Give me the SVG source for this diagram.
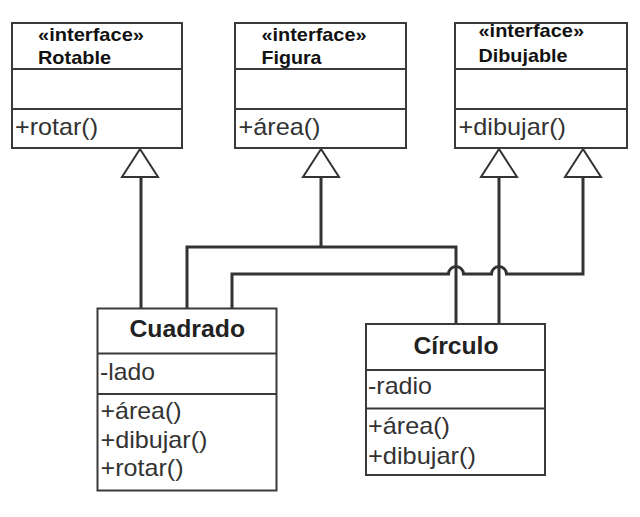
<svg xmlns="http://www.w3.org/2000/svg" width="640" height="517" viewBox="0 0 640 517">
<style>
.box{fill:#fff;stroke:#3a3a3a;stroke-width:2}
.ln{fill:none;stroke:#3a3a3a;stroke-width:2}
.con{fill:none;stroke:#333;stroke-width:3}
.tri{fill:#fff;stroke:#333;stroke-width:2;stroke-linejoin:miter}
.st{font-family:"Liberation Sans",Arial,sans-serif;font-weight:bold;font-size:19px;fill:#111}
.ttl{font-family:"Liberation Sans",Arial,sans-serif;font-weight:bold;font-size:24px;fill:#222}
.t{font-family:"Liberation Sans",Arial,sans-serif;font-size:24px;fill:#333}
</style>
<rect width="640" height="517" fill="#fff"/>
<g id="connectors">
<path class="con" d="M141,308 V176"/>
<path class="con" d="M187,308 V247 H456 V324"/>
<path class="con" d="M321,247 V176"/>
<path class="con" d="M232,308 V274 H448.5 A7.5,7.5 0 0 1 463.5,274 H491.5 A7.5,7.5 0 0 1 506.5,274 H583 V176"/>
<path class="con" d="M499,324 V176"/>
<polygon class="tri" points="140,149 158,177 122,177"/>
<polygon class="tri" points="321,149 339,177 303,177"/>
<polygon class="tri" points="499,149 517,177 481,177"/>
<polygon class="tri" points="583,149 601,177 565,177"/>
</g>
<g id="Rotable">
<rect class="box" x="12" y="23" width="170" height="125" stroke="none"/>
<path class="ln" d="M37,23 H12 V148 H182 V23 H163 M12,69 H182 M12,109 H182"/>
<text class="st" x="38" y="40.5" textLength="106" lengthAdjust="spacingAndGlyphs">«interface»</text>
<text class="st" x="38" y="63.5" textLength="73" lengthAdjust="spacingAndGlyphs">Rotable</text>
<text class="t" x="15" y="134.5" textLength="83" lengthAdjust="spacingAndGlyphs">+rotar()</text>
</g>
<g id="Figura">
<rect class="box" x="235" y="23" width="171" height="125" stroke="none"/>
<path class="ln" d="M261,23 H235 V148 H406 V23 H395 M235,69 H406 M235,109 H406"/>
<text class="st" x="261.5" y="40.5" textLength="105" lengthAdjust="spacingAndGlyphs">«interface»</text>
<text class="st" x="261.5" y="63.5" textLength="60" lengthAdjust="spacingAndGlyphs">Figura</text>
<text class="t" x="238.5" y="135" textLength="82" lengthAdjust="spacingAndGlyphs">+área()</text>
</g>
<g id="Dibujable">
<rect class="box" x="455" y="23" width="172" height="125" stroke="none"/>
<path class="ln" d="M477,23 H455 V148 H627 V23 H613 M455,69 H627 M455,109 H627"/>
<text class="st" x="478.5" y="37" textLength="105.5" lengthAdjust="spacingAndGlyphs">«interface»</text>
<text class="st" x="478.5" y="61.5" textLength="89" lengthAdjust="spacingAndGlyphs">Dibujable</text>
<text class="t" x="458.5" y="134.5" textLength="107.5" lengthAdjust="spacingAndGlyphs">+dibujar()</text>
</g>
<g id="Cuadrado">
<rect class="box" x="97.5" y="308.5" width="179" height="182"/>
<path class="ln" d="M97.5,353.5 H276.5 M97.5,394 H276.5"/>
<text class="ttl" x="129.5" y="337" textLength="115.5" lengthAdjust="spacingAndGlyphs">Cuadrado</text>
<text class="t" x="100" y="379.5" textLength="55" lengthAdjust="spacingAndGlyphs">-lado</text>
<text class="t" x="100.5" y="419" textLength="81" lengthAdjust="spacingAndGlyphs">+área()</text>
<text class="t" x="100.5" y="447.5" textLength="107" lengthAdjust="spacingAndGlyphs">+dibujar()</text>
<text class="t" x="100.5" y="476" textLength="83" lengthAdjust="spacingAndGlyphs">+rotar()</text>
</g>
<g id="Circulo">
<rect class="box" x="366" y="324" width="179" height="151"/>
<path class="ln" d="M366,370 H545 M366,408.5 H545"/>
<text class="ttl" x="413.5" y="353.5" textLength="85" lengthAdjust="spacingAndGlyphs">Círculo</text>
<text class="t" x="368" y="393.5" textLength="64" lengthAdjust="spacingAndGlyphs">-radio</text>
<text class="t" x="368" y="434" textLength="82" lengthAdjust="spacingAndGlyphs">+área()</text>
<text class="t" x="368" y="464" textLength="108" lengthAdjust="spacingAndGlyphs">+dibujar()</text>
</g>
</svg>
